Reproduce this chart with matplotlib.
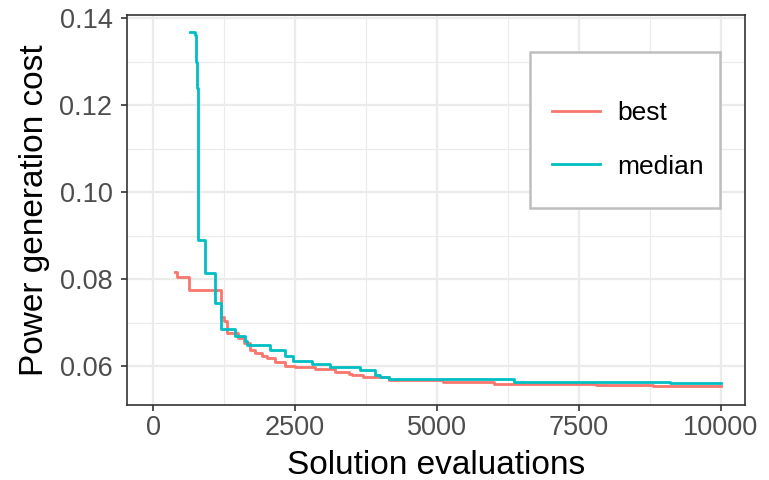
import matplotlib.pyplot as plt
from matplotlib.ticker import MultipleLocator
from matplotlib.patches import Rectangle

plt.rcParams['font.family'] = ['Liberation Sans', 'DejaVu Sans']

# convergence curves (step functions)
best_x = [387, 430, 634, 1197, 1250, 1300, 1340, 1500, 1600, 1700, 1800, 1920, 2000,
          2150, 2330, 2500, 2850, 3200, 3450, 3500, 3700, 4150, 5100, 6000, 7800, 8800, 10000]
best_y = [0.0816, 0.0805, 0.0775, 0.0713, 0.0705, 0.0676, 0.0676, 0.0664, 0.0653, 0.0637,
          0.0630, 0.0623, 0.0618, 0.0609, 0.0600, 0.0598, 0.0593, 0.0586, 0.0582, 0.0579,
          0.0575, 0.0568, 0.0563, 0.0559, 0.0556, 0.0554, 0.0554]

med_x = [651, 740, 757, 770, 790, 915, 1090, 1130, 1197, 1444, 1620, 1655, 2060, 2324,
         2465, 2800, 3116, 3644, 3900, 4000, 4150, 6350, 9100, 10000]
med_y = [0.1368, 0.1362, 0.130, 0.124, 0.089, 0.0814, 0.0745, 0.0745, 0.0685, 0.0670,
         0.0657, 0.0648, 0.0637, 0.0623, 0.0612, 0.0605, 0.0598, 0.0591, 0.0580, 0.0575,
         0.0570, 0.0563, 0.0561, 0.0561]

fig = plt.figure(figsize=(7.69, 4.8), dpi=100)
ax = fig.add_axes([127 / 769, 75 / 480, 618 / 769, 390 / 480])

ax.plot(best_x, best_y, drawstyle='steps-post', color='#F8766D', lw=2, label='best')
ax.plot(med_x, med_y, drawstyle='steps-post', color='#00BFC4', lw=2, label='median')

ax.set_xlim(-458, 10423)
ax.set_ylim(0.05110, 0.14069)
ax.xaxis.set_major_locator(MultipleLocator(2500))
ax.xaxis.set_minor_locator(MultipleLocator(1250))
ax.yaxis.set_major_locator(MultipleLocator(0.02))
ax.yaxis.set_minor_locator(MultipleLocator(0.01))
ax.set_yticks([0.06, 0.08, 0.10, 0.12, 0.14])
ax.set_yticklabels(['0.06', '0.08', '0.10', '0.12', '0.14'])

ax.grid(which='major', color='#EBEBEB', lw=1.6)
ax.grid(which='minor', color='#EBEBEB', lw=0.8)
ax.set_axisbelow(True)
for s in ax.spines.values():
    s.set_color('#333333')
    s.set_linewidth(1.2)
ax.tick_params(which='major', length=4.5, width=1.2, color='#333333',
               labelcolor='#4D4D4D', labelsize=19.5)
ax.tick_params(axis='x', pad=3)
ax.tick_params(axis='y', pad=6)
ax.tick_params(which='minor', length=0)

ax.set_xlabel('Solution evaluations', fontsize=24, labelpad=6)
ax.set_ylabel('Power generation cost', fontsize=24, labelpad=7)

# legend box
box = Rectangle((530 / 769, 1 - 208 / 480), 190 / 769, 156 / 480,
                transform=fig.transFigure, facecolor='white',
                edgecolor='#BEBEBE', lw=1.8, zorder=5, clip_on=False)
ax.add_patch(box)
leg = ax.legend(loc='center left', bbox_to_anchor=(552 / 769, 1 - 140 / 480),
                bbox_transform=fig.transFigure, fontsize=19, frameon=False,
                borderpad=0, borderaxespad=0, handlelength=1.83, handletextpad=0.65,
                labelspacing=1.1)
leg.set_zorder(6)

fig.savefig('out.png', dpi=100)
